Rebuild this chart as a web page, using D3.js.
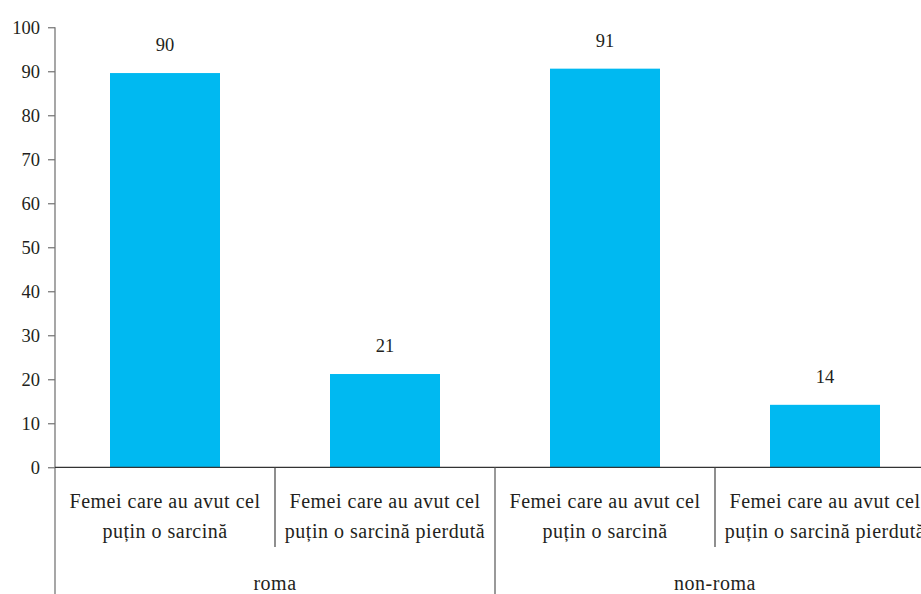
<!DOCTYPE html>
<html>
<head>
<meta charset="utf-8">
<script src="https://cdn.jsdelivr.net/npm/d3@7"></script>
<style>
  html, body { margin: 0; padding: 0; background: #fff; }
  svg { display: block; }
  text { font-family: "Liberation Serif", "DejaVu Serif", serif; fill: #231f20; }
</style>
</head>
<body>
<svg id="chart" width="921" height="594"></svg>
<script>
const categories = [
  ["Femei care au avut cel", "puțin o sarcină"],
  ["Femei care au avut cel", "puțin o sarcină pierdută"],
  ["Femei care au avut cel", "puțin o sarcină"],
  ["Femei care au avut cel", "puțin o sarcină pierdută"]
];
const groups = ["roma", "non-roma"];
const values = [89.6, 21.2, 90.6, 14.2];
const yTicks = [0, 10, 20, 30, 40, 50, 60, 70, 80, 90, 100];

const svg = d3.select("#chart");
const W = 921, H = 594;
const mLeft = 55, mTop = 27.3, mBottom = 467.3;
const bandW = 220;
const mRight = mLeft + bandW * values.length;

const x = d3.scaleBand().domain(d3.range(values.length)).range([mLeft, mRight]).paddingInner(0.5).paddingOuter(0.25);
const y = d3.scaleLinear().domain([0, 100]).range([mBottom, mTop]);

// bars
svg.append("g").selectAll("rect").data(values).join("rect")
  .attr("x", (d, i) => x(i))
  .attr("y", d => y(d))
  .attr("width", x.bandwidth())
  .attr("height", d => y(0) - y(d))
  .attr("fill", "#00b9f1");

// value labels
svg.append("g").selectAll("text").data(values).join("text")
  .attr("x", (d, i) => x(i) + x.bandwidth() / 2)
  .attr("y", d => y(d) - 22)
  .attr("text-anchor", "middle")
  .style("font-size", "18.5px")
  .text(d => Math.round(d));

// y axis
const yAxis = d3.axisLeft(y).tickValues(yTicks).tickSize(7).tickPadding(8).tickSizeOuter(0);
const gy = svg.append("g").attr("transform", `translate(${mLeft},0)`).call(yAxis);
gy.select(".domain").remove();
gy.selectAll(".tick line").attr("stroke", "#555").attr("stroke-width", 1);
gy.selectAll(".tick text").style("font-size", "18.5px").attr("fill", "#231f20");
svg.append("line").attr("x1", mLeft).attr("x2", mLeft).attr("y1", y(100)).attr("y2", H)
  .attr("stroke", "#777").attr("stroke-width", 1.3);

// x axis baseline
svg.append("line").attr("x1", mLeft).attr("x2", W).attr("y1", y(0)).attr("y2", y(0))
  .attr("stroke", "#333").attr("stroke-width", 1.3);

// category dividers
const band = i => mLeft + bandW * i;
[1, 3].forEach(i => {
  svg.append("line").attr("x1", band(i)).attr("x2", band(i)).attr("y1", y(0)).attr("y2", 547)
    .attr("stroke", "#444").attr("stroke-width", 1.2);
});
svg.append("line").attr("x1", band(2)).attr("x2", band(2)).attr("y1", y(0)).attr("y2", H)
  .attr("stroke", "#555").attr("stroke-width", 1.2);

// category labels
const cl = svg.append("g").selectAll("text").data(categories).join("text")
  .attr("text-anchor", "middle")
  .style("font-size", "20px")
  .style("letter-spacing", "0.5px")
  .attr("x", (d, i) => x(i) + x.bandwidth() / 2);
cl.selectAll("tspan").data(d => d).join("tspan")
  .attr("x", function() { return d3.select(this.parentNode).attr("x"); })
  .attr("y", (d, j) => 508 + j * 30)
  .text(d => d);

// group labels
svg.append("g").selectAll("text").data(groups).join("text")
  .attr("text-anchor", "middle")
  .style("font-size", "20px")
  .style("letter-spacing", "0.5px")
  .attr("x", (d, i) => band(i * 2) + bandW)
  .attr("y", 590)
  .text(d => d);
</script>
</body>
</html>
